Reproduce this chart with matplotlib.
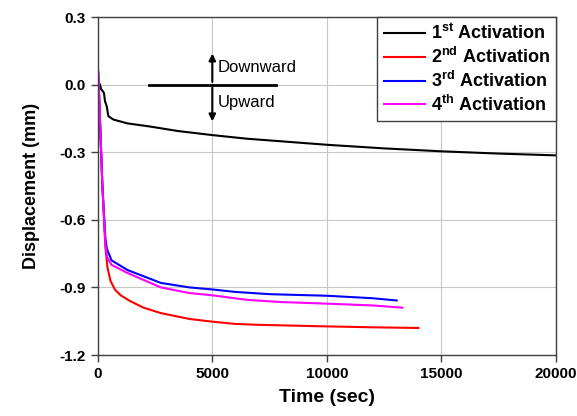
import matplotlib
matplotlib.use("Agg")
import matplotlib.pyplot as plt
import numpy as np

plt.rcParams['font.family'] = ['Liberation Sans', 'DejaVu Sans']
plt.rcParams['mathtext.fontset'] = 'custom'
plt.rcParams['mathtext.rm'] = 'Liberation Sans:bold'
plt.rcParams['mathtext.bf'] = 'Liberation Sans:bold'

# data (time in sec, displacement in mm)
t1 = [100, 140, 270, 315, 390, 460, 680, 1290, 2280, 3500, 5000, 6500, 8840, 10000, 12500, 15000, 17500, 20000]
d1 = [0.0, -0.019, -0.037, -0.074, -0.096, -0.14, -0.155, -0.172, -0.186, -0.206, -0.224, -0.24, -0.258, -0.267, -0.283, -0.296, -0.306, -0.314]

t2 = [20, 200, 330, 420, 550, 750, 1000, 1400, 2000, 2750, 4000, 5000, 6000, 7000, 10000, 12000, 14000]
d2 = [0.05, -0.45, -0.72, -0.81, -0.87, -0.91, -0.935, -0.96, -0.99, -1.014, -1.04, -1.052, -1.062, -1.066, -1.073, -1.077, -1.08]

t3 = [20, 200, 330, 400, 600, 1300, 2750, 4000, 5000, 6000, 7500, 10000, 12000, 13050]
d3 = [0.05, -0.45, -0.68, -0.73, -0.78, -0.823, -0.88, -0.90, -0.909, -0.92, -0.93, -0.937, -0.948, -0.958]

t4 = [20, 200, 330, 400, 600, 1300, 2750, 4000, 5000, 6500, 8000, 10000, 12000, 13300]
d4 = [0.06, -0.45, -0.70, -0.765, -0.80, -0.836, -0.90, -0.925, -0.935, -0.955, -0.965, -0.972, -0.98, -0.99]

labels = ['1$^{\\mathrm{st}}$ Activation', '2$^{\\mathrm{nd}}$ Activation',
          '3$^{\\mathrm{rd}}$ Activation', '4$^{\\mathrm{th}}$ Activation']
colors = ['black', 'red', 'blue', 'magenta']

fig = plt.figure(figsize=(5.77, 4.16), dpi=100)
ax = fig.add_axes([0.1695, 0.1466, 0.7938, 0.8125])

for t, d, lab, c in zip([t1, t2, t3, t4], [d1, d2, d3, d4], labels, colors):
    ax.plot(t, d, color=c, lw=1.5, label=lab)

ax.set_xlim(0, 20000)
ax.set_ylim(-1.2, 0.3)
ax.set_xticks([0, 5000, 10000, 15000, 20000])
ax.set_yticks([-1.2, -0.9, -0.6, -0.3, 0.0, 0.3])
ax.set_yticklabels(['-1.2', '-0.9', '-0.6', '-0.3', '0.0', '0.3'])
ax.grid(True, color='#c8c8c8', lw=0.8)
ax.set_axisbelow(True)
ax.tick_params(direction='out', length=5, width=1, labelsize=11, colors='#404040', labelcolor='black')
for lbl in ax.get_xticklabels() + ax.get_yticklabels():
    lbl.set_fontweight('bold')
for s in ax.spines.values():
    s.set_color('#404040')
    s.set_linewidth(1.0)

ax.set_xlabel('Time (sec)', fontsize=14, fontweight='bold', labelpad=6)
ax.set_ylabel('Displacement (mm)', fontsize=13, fontweight='bold', labelpad=14)

# direction annotation
ax.plot([2250, 7800], [0.0, 0.0], color='black', lw=2)
ax.annotate('', xy=(5000, 0.15), xytext=(5000, 0.0),
            arrowprops=dict(arrowstyle='-|>', color='black', lw=1.5, mutation_scale=10))
ax.annotate('', xy=(5000, -0.175), xytext=(5000, 0.0),
            arrowprops=dict(arrowstyle='-|>', color='black', lw=1.5, mutation_scale=10))
ax.text(5250, 0.075, 'Downward', fontsize=12, va='center', ha='left')
ax.text(5250, -0.078, 'Upward', fontsize=12, va='center', ha='left')

leg = ax.legend(loc='upper right', fontsize=13, frameon=True, fancybox=False,
                edgecolor='#404040', framealpha=1, borderaxespad=0, handlelength=2.3,
                handletextpad=0.3, labelspacing=0.2, borderpad=0.35)
leg.get_frame().set_linewidth(1.0)
for txt in leg.get_texts():
    txt.set_fontweight('bold')

fig.savefig('out.png', dpi=100)
